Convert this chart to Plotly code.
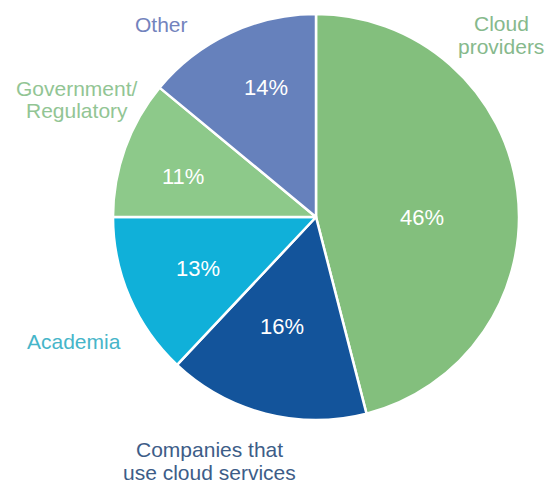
import plotly.graph_objects as go

categories = ["Cloud providers", "Companies that use cloud services", "Academia",
              "Government/Regulatory", "Other"]
values = [46, 16, 13, 11, 14]
slice_colors = ["#83bf7d", "#13549b", "#10b0d9", "#8dc98a", "#6681bc"]
label_lines = [["Cloud", "providers"], ["Companies that", "use cloud services"], ["Academia"],
               ["Government/", "Regulatory"], ["Other"]]
label_colors = ["#86b98c", "#3d5d88", "#46b5c9", "#92c594", "#7383bd"]
# first-line centre (px) of each outside label, line spacing
label_pos = [(501, 23), (209, 449), (74, 341), (77, 88), (161, 25)]
line_gap = 23
pct_pos = [(422, 217), (282, 326), (198, 268), (183, 176), (266, 87)]

W, H = 549, 484
cx, cy, r = 316, 217, 203

fig = go.Figure(go.Pie(
    labels=categories,
    values=values,
    sort=False,
    direction="clockwise",
    rotation=0,
    marker=dict(colors=slice_colors, line=dict(color="white", width=2.5)),
    textinfo="none",
    domain=dict(x=[(cx - r) / W, (cx + r) / W], y=[1 - (cy + r) / H, 1 - (cy - r) / H]),
    showlegend=False,
    hoverinfo="label+percent",
))

for lines, col, (x, y) in zip(label_lines, label_colors, label_pos):
    for i, line in enumerate(lines):
        fig.add_annotation(
            x=x / W, y=1 - (y + i * line_gap) / H, xref="paper", yref="paper",
            text=line, showarrow=False, xanchor="center", yanchor="middle",
            font=dict(color=col, size=21, family="Liberation Sans"),
        )

for v, (x, y) in zip(values, pct_pos):
    fig.add_annotation(
        x=x / W, y=1 - y / H, xref="paper", yref="paper",
        text=f"{v}%", showarrow=False, xanchor="center", yanchor="middle",
        font=dict(color="white", size=22, family="Liberation Sans"),
    )

fig.update_layout(
    width=W, height=H,
    margin=dict(l=0, r=0, t=0, b=0),
    paper_bgcolor="white", plot_bgcolor="white",
)

fig.write_html("out.html", config={"displayModeBar": False},
               post_script="document.body.style.margin='0px';")
